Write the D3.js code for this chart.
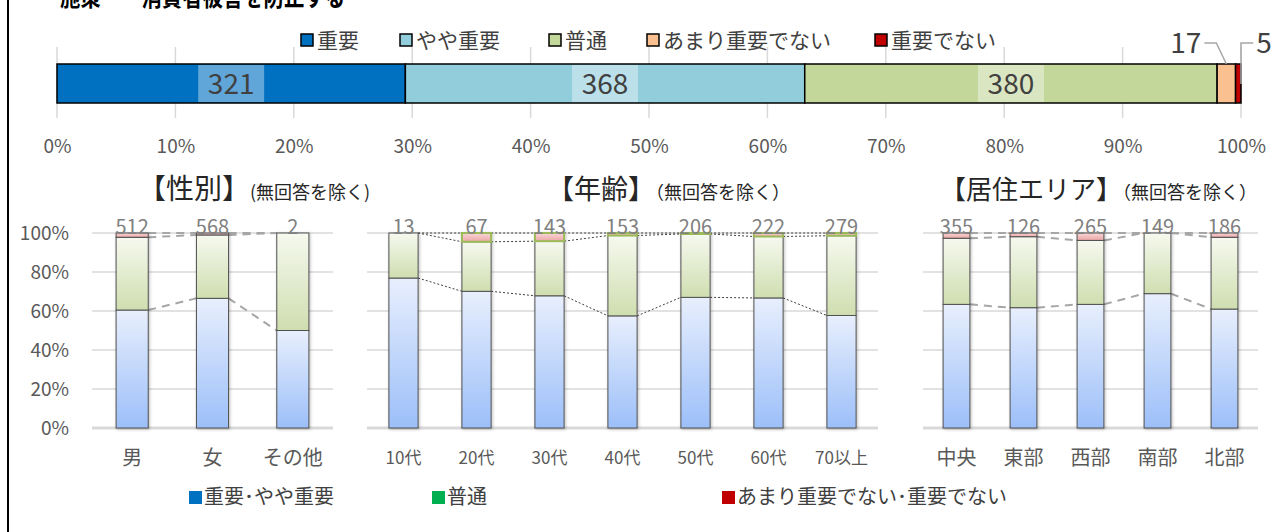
<!DOCTYPE html>
<html>
<head>
<meta charset="utf-8">
<script src="https://cdn.jsdelivr.net/npm/d3@7"></script>
<style>
  body { margin: 0; background: #fff; }
  text { font-family: "Noto Sans CJK JP", "Noto Sans", sans-serif; }
</style>
</head>
<body>
<div id="app"></div>
<script>
const container = document.querySelector('#app');

const width = 1280;
const height = 532;

// overall answers (counts)
const overallCats = ["重要", "やや重要", "普通", "あまり重要でない", "重要でない"];
const overallCounts = [321, 368, 380, 17, 5];
const overallColors = ["#0070c0", "#92cddc", "#c4d79b", "#fac090", "#c00000"];
const pctTicks = [0, 0.1, 0.2, 0.3, 0.4, 0.5, 0.6, 0.7, 0.8, 0.9, 1];

// gender (percent)
const genderCats = ["男", "女", "その他"];
const genderN = [512, 568, 2];
const genderImp = [60.5, 66.5, 50.0];
const genderNor = [37.3, 32.5, 50.0];
const genderNot = [2.2, 1.0, 0];

// age (percent)
const ageCats = ["10代", "20代", "30代", "40代", "50代", "60代", "70以上"];
const ageN = [13, 67, 143, 153, 206, 222, 279];
const ageImp = [76.9, 70.1, 67.8, 57.5, 67.0, 66.7, 57.7];
const ageNor = [23.1, 25.4, 28.0, 41.2, 32.5, 31.5, 40.9];
const ageNot = [0, 4.5, 4.2, 1.3, 0.5, 1.8, 1.4];

// area (percent)
const areaCats = ["中央", "東部", "西部", "南部", "北部"];
const areaN = [355, 126, 265, 149, 186];
const areaImp = [63.4, 61.7, 63.4, 68.9, 61.0];
const areaNor = [33.9, 36.4, 32.8, 31.1, 36.8];
const areaNot = [2.7, 1.9, 3.8, 0, 2.2];

const yTicks = [0, 20, 40, 60, 80, 100];
const legend2Cats = ["重要･やや重要", "普通", "あまり重要でない･重要でない"];
const legend2Colors = ["#0070c0", "#00b050", "#c00000"];

const svg = d3.create("svg")
    .attr("width", width)
    .attr("height", height);
container.append(svg.node());

// gradients for the panel bars
const defs = svg.append("defs");
function grad(id, top, bottom) {
  const g = defs.append("linearGradient").attr("id", id)
      .attr("x1", 0).attr("y1", 0).attr("x2", 0).attr("y2", 1);
  g.append("stop").attr("offset", "0%").attr("stop-color", top);
  g.append("stop").attr("offset", "100%").attr("stop-color", bottom);
}
grad("gImp", "#e8effd", "#9cbff9");
grad("gNor", "#f6f9ef", "#cfdeb0");
grad("gNot", "#f9d6d6", "#eba6a6");
const shadow = defs.append("filter").attr("id", "shadow")
    .attr("x", "-30%").attr("y", "-10%").attr("width", "160%").attr("height", "120%");
shadow.append("feDropShadow").attr("dx", 1).attr("dy", 1)
    .attr("stdDeviation", 1.5).attr("flood-color", "#000").attr("flood-opacity", 0.25);

// left frame line
svg.append("line")
    .attr("x1", 8).attr("x2", 8).attr("y1", 0).attr("y2", height)
    .attr("stroke", "#000").attr("stroke-width", 2);

// cut off title
svg.append("text")
    .attr("x", 60).attr("y", 6)
    .attr("font-size", 26).attr("font-weight", "bold").attr("fill", "#000")
    .attr("textLength", 285).attr("lengthAdjust", "spacingAndGlyphs")
    .text("施策　　消費者被害を防止する");

// ---------- overall 100% bar ----------
const x = d3.scaleLinear().domain([0, 1]).range([57, 1241]);
const total = d3.sum(overallCounts);
const cum = d3.cumsum(overallCounts).map(d => d / total);
const segs = overallCounts.map((c, i) => ({
  cat: overallCats[i], count: c, color: overallColors[i],
  x0: i === 0 ? 0 : cum[i - 1], x1: cum[i]
}));
const barTop = 64, barH = 39;

svg.append("g")
  .selectAll("line")
  .data(pctTicks)
  .join("line")
    .attr("x1", d => x(d)).attr("x2", d => x(d))
    .attr("y1", 47).attr("y2", 118)
    .attr("stroke", "#d9d9d9").attr("stroke-width", 1.5);

svg.append("g")
  .selectAll("rect")
  .data(segs)
  .join("rect")
    .attr("x", d => x(d.x0)).attr("width", d => x(d.x1) - x(d.x0))
    .attr("y", barTop).attr("height", barH)
    .attr("fill", d => d.color)
    .attr("stroke", "#000").attr("stroke-width", 1.5);

// big segment labels
const big = segs.filter(d => d.count > 50);
svg.append("g")
  .selectAll("rect")
  .data(big)
  .join("rect")
    .attr("x", d => x((d.x0 + d.x1) / 2) - 33).attr("width", 66)
    .attr("y", barTop + 1).attr("height", barH - 2)
    .attr("fill", "#fff").attr("fill-opacity", 0.38);
svg.append("g")
  .selectAll("text")
  .data(big)
  .join("text")
    .attr("x", d => x((d.x0 + d.x1) / 2)).attr("y", barTop + barH / 2)
    .attr("dy", "0.36em").attr("text-anchor", "middle")
    .attr("font-size", 28).attr("fill", "#404040")
    .text(d => d.count);

// small segment labels with leader lines
const small = segs.filter(d => d.count <= 50);
small.forEach((d, i) => {
  const cx = x((d.x0 + d.x1) / 2);
  const pts = i === 0
    ? [[cx - 22, 43], [cx - 10, 43], [cx, barTop]]
    : [[cx + 15, 43], [x(1), 43], [x(1), barTop + 20]];
  svg.append("path")
      .attr("d", d3.line()(pts))
      .attr("fill", "none").attr("stroke", "#a6a6a6").attr("stroke-width", 1.5);
  svg.append("text")
      .attr("x", i === 0 ? cx - 25 : cx + 18).attr("y", 43)
      .attr("dy", "0.36em").attr("text-anchor", i === 0 ? "end" : "start")
      .attr("font-size", 28).attr("fill", "#404040")
      .text(d.count);
});

svg.append("g")
    .attr("transform", "translate(0,139)")
    .call(d3.axisBottom(x).tickValues(pctTicks).tickFormat(d3.format(".0%")).tickSize(0).tickPadding(0))
    .call(g => g.select(".domain").remove())
    .call(g => g.selectAll("text")
        .attr("font-size", 19).attr("fill", "#595959")
        .attr("font-family", "'Noto Sans CJK JP', sans-serif"));

// top legend
const leg1X = [301, 400, 549, 647, 875];
overallCats.forEach((c, i) => {
  svg.append("rect")
      .attr("x", leg1X[i]).attr("y", 34).attr("width", 12).attr("height", 12)
      .attr("fill", overallColors[i]).attr("stroke", "#000").attr("stroke-width", 1.5);
  svg.append("text")
      .attr("x", leg1X[i] + 16).attr("y", 40).attr("dy", "0.36em")
      .attr("font-size", 21).attr("fill", "#404040")
      .text(c);
});

// ---------- panels ----------
const y = d3.scaleLinear().domain([0, 100]).range([428, 233]);

function drawPanel(p) {
  const g = svg.append("g");
  const xb = d3.scaleBand().domain(p.cats).range([p.x0, p.x1])
      .paddingInner(0.6).paddingOuter(0.3);

  g.append("g")
    .selectAll("line")
    .data(yTicks)
    .join("line")
      .attr("x1", p.x0).attr("x2", p.x1)
      .attr("y1", d => y(d)).attr("y2", d => y(d))
      .attr("stroke", "#d9d9d9").attr("stroke-width", d => d === 0 ? 3 : 1.5);

  const rows = p.cats.map((c, i) => ({ cat: c, imp: p.imp[i], nor: p.nor[i], not: p.not[i] }));
  const stack = d3.stack().keys(["imp", "nor", "not"])(rows);
  const fills = { imp: "url(#gImp)", nor: "url(#gNor)", not: "url(#gNot)" };

  // series lines between bars
  stack.forEach(layer => {
    for (let i = 0; i < layer.length - 1; i++) {
      g.append("line")
          .attr("x1", xb(p.cats[i]) + xb.bandwidth()).attr("x2", xb(p.cats[i + 1]))
          .attr("y1", y(layer[i][1])).attr("y2", y(layer[i + 1][1]))
          .attr("stroke", p.lineColor).attr("stroke-width", p.lineWidth)
          .attr("stroke-dasharray", p.dash);
    }
  });

  const bars = g.append("g").attr("filter", "url(#shadow)");
  stack.forEach(layer => {
    bars.append("g")
      .selectAll("rect")
      .data(layer.filter(d => d[1] - d[0] > 0))
      .join("rect")
        .attr("x", d => xb(d.data.cat)).attr("width", xb.bandwidth())
        .attr("y", d => y(d[1])).attr("height", d => y(d[0]) - y(d[1]))
        .attr("fill", fills[layer.key])
        .attr("stroke", layer.key === "not" && p.redStroke ? p.redStroke : "#505050")
        .attr("stroke-width", layer.key === "not" && p.redStroke ? 2 : 1);
  });

  g.append("g")
    .selectAll("text")
    .data(p.n)
    .join("text")
      .attr("x", (d, i) => xb(p.cats[i]) + xb.bandwidth() / 2)
      .attr("y", y(100) + 1)
      .attr("text-anchor", "middle")
      .attr("font-size", 20).attr("fill", "#808080")
      .text(d => d);

  g.append("g")
    .selectAll("text")
    .data(p.cats)
    .join("text")
      .attr("x", d => xb(d) + xb.bandwidth() / 2)
      .attr("y", 458).attr("dy", "0.36em")
      .attr("text-anchor", "middle")
      .attr("font-size", p.catSize).attr("fill", "#595959")
      .text(d => d);

  const title = g.append("text")
      .attr("x", p.titleX).attr("y", 199)
      .attr("fill", "#262626");
  title.append("tspan").attr("font-size", p.titleSize).text(p.title);
  title.append("tspan").attr("font-size", p.noteSize).text(p.note);
}

drawPanel({
  cats: genderCats, n: genderN, imp: genderImp, nor: genderNor, not: genderNot,
  x0: 92, x1: 333, catSize: 20, dash: "8,6", lineColor: "#a6a6a6", lineWidth: 2,
  title: "【性別】", note: "(無回答を除く)", titleSize: 28, noteSize: 18, titleX: 138
});
drawPanel({
  cats: ageCats, n: ageN, imp: ageImp, nor: ageNor, not: ageNot,
  x0: 367, x1: 878, catSize: 17, dash: "2,2", lineColor: "#404040", lineWidth: 1,
  redStroke: "#9bbb59",
  title: "【年齢】", note: "（無回答を除く）", titleSize: 27, noteSize: 18, titleX: 547
});
drawPanel({
  cats: areaCats, n: areaN, imp: areaImp, nor: areaNor, not: areaNot,
  x0: 923, x1: 1258, catSize: 20, dash: "8,6", lineColor: "#a6a6a6", lineWidth: 2,
  title: "【居住エリア】", note: "（無回答を除く）", titleSize: 26, noteSize: 18, titleX: 940
});

// y axis of the first panel
svg.append("g")
    .attr("transform", "translate(69,0)")
    .call(d3.axisLeft(y).tickValues(yTicks).tickFormat(d => d + "%").tickSize(0).tickPadding(0))
    .call(g => g.select(".domain").remove())
    .call(g => g.selectAll("text")
        .attr("font-size", 19).attr("fill", "#595959")
        .attr("font-family", "'Noto Sans CJK JP', sans-serif"));

// bottom legend
const leg2X = [189, 432, 722];
legend2Cats.forEach((c, i) => {
  svg.append("rect")
      .attr("x", leg2X[i]).attr("y", 491).attr("width", 13).attr("height", 13)
      .attr("fill", legend2Colors[i]);
  svg.append("text")
      .attr("x", leg2X[i] + 15).attr("y", 497).attr("dy", "0.36em")
      .attr("font-size", 20).attr("fill", "#404040")
      .text(c);
});
</script>
</body>
</html>
